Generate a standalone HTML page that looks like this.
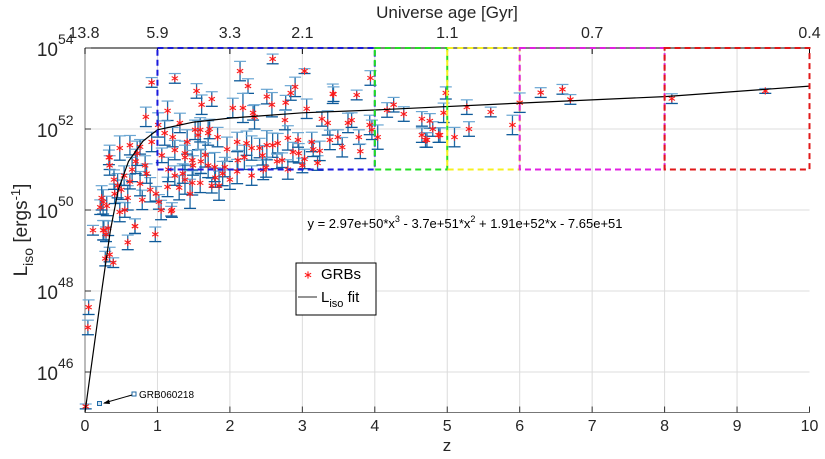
<!DOCTYPE html>
<html><head><meta charset="utf-8"><style>
body{margin:0;background:#fff;}
svg{display:block;font-family:"Liberation Sans",sans-serif;}
</style></head><body>
<svg id="chart" width="825" height="459" xmlns="http://www.w3.org/2000/svg"></svg>
<script>
// ---- data ----
const grbZ = [0.01,0.05,0.04,0.11,0.26,0.29,0.32,0.69,0.97,0.59,0.28,0.34,0.39,0.25,0.3,0.48,0.55,1.19,1.02,0.23,0.41,0.59,0.79,0.98,1.14,1.75,1.59,0.62,0.76,0.54,0.34,0.33,0.72,0.83,1.06,1.38,1.49,1.24,1.38,1.48,
0.92,1.24,1.54,0.84,1.14,1.61,1.75,2.14,2.25,2.51,2.58,2.77,2.9,3.03,3.42,3.75,3.94,1.01,1.31,1.52,1.59,1.72,2.04,2.18,2.32,2.34,2.76,3.06,3.27,3.35,3.63,3.68,3.93,4.04,3.96,3.78,3.49,3.38,3.13,2.94,2.8,2.66,2.51,2.41,2.23,2.1,1.96,1.83,1.7,1.56,1.41,1.21,1.1,0.92,0.76,0.62,0.48,0.34,1.24,1.38,1.48,1.66,1.79,1.93,2.11,2.3,2.46,2.59,2.72,2.87,3.03,3.21,3.24,
0.21,0.25,1.2,0.69,2.59,2.84,3.43,4.26,4.17,4.4,4.65,4.76,4.8,4.65,4.72,4.9,4.98,4.95,5.27,5.6,5.3,5.1,5.9,6.0,6.29,6.59,6.7,8.1,9.39,4.88,4.7,
1.9,2.0,2.1,1.85,2.3,1.7,2.5,2.8,3.0,1.3,1.45,0.9,1.05,1.6,1.8,2.2,2.45,2.65,2.95,3.15,3.55,3.8,1.15,1.35,0.5,0.65,0.85,0.45,0.4,0.7];
const grbLogL = [45.15,47.6,47.1,49.5,49.5,49.4,49.55,49.6,49.4,49.2,48.8,48.9,48.7,50.2,50.1,49.95,50.0,49.97,50.2,50.3,50.4,50.3,50.25,50.4,50.57,50.6,50.67,50.7,50.65,50.85,51.1,51.3,51.4,51.1,51.35,51.4,51.1,50.85,50.75,50.67,
53.15,53.25,52.94,52.3,52.45,52.6,52.74,53.43,53.06,52.8,52.6,52.65,53.04,53.43,52.87,52.84,53.26,52.1,52.15,51.98,51.98,52.0,52.52,52.52,52.4,52.3,52.22,52.5,52.25,52.15,52.15,52.22,52.1,51.8,51.98,51.8,51.8,51.73,51.68,51.73,51.78,51.65,51.6,51.53,51.65,51.68,51.5,51.8,51.9,51.85,51.68,51.8,51.9,51.68,51.56,51.6,51.53,51.3,51.48,51.3,51.23,51.36,51.06,51.06,51.23,51.53,50.99,51.6,51.23,51.43,51.26,51.16,51.46,
50.07,49.5,50.0,49.6,53.73,52.89,52.86,52.6,52.47,52.37,52.25,52.2,52.0,51.85,51.73,51.85,52.89,52.4,52.54,52.42,52.0,51.8,52.1,52.65,52.9,52.98,52.73,52.75,52.94,51.85,51.73,
50.9,50.75,50.95,50.6,50.85,51.1,51.05,51.0,51.1,50.55,50.4,50.5,50.0,51.2,50.8,51.3,51.35,51.2,51.4,51.5,51.55,51.45,51.0,50.9,50.5,51.0,50.9,50.6,50.75,51.2];
const grbErr = [0.06,0.18,0.18,0.12,0.24,0.18,0.18,0.18,0.18,0.18,0.18,0.18,0.12,0.3,0.24,0.24,0.18,0.12,0.18,0.3,0.24,0.3,0.24,0.18,0.24,0.18,0.24,0.18,0.3,0.24,0.24,0.18,0.3,0.24,0.18,0.3,0.24,0.24,0.36,0.3,
0.12,0.12,0.18,0.24,0.24,0.24,0.18,0.24,0.18,0.18,0.3,0.18,0.24,0.06,0.24,0.12,0.18,0.3,0.24,0.24,0.3,0.24,0.24,0.36,0.18,0.3,0.24,0.24,0.18,0.3,0.24,0.18,0.24,0.3,0.24,0.18,0.18,0.24,0.24,0.18,0.3,0.24,0.36,0.24,0.3,0.24,0.3,0.24,0.3,0.36,0.3,0.24,0.3,0.24,0.18,0.24,0.3,0.3,0.24,0.3,0.24,0.3,0.36,0.24,0.24,0.3,0.24,0.3,0.18,0.24,0.24,0.18,0.24,
0.18,0.24,0.18,0.18,0.12,0.18,0.18,0.18,0.18,0.18,0.18,0.18,0.18,0.18,0.18,0.18,0.15,0.24,0.18,0.12,0.18,0.24,0.24,0.24,0.12,0.12,0.12,0.12,0.06,0.18,0.18,
0.3,0.24,0.3,0.36,0.24,0.3,0.24,0.24,0.18,0.3,0.36,0.3,0.24,0.3,0.24,0.3,0.24,0.18,0.24,0.18,0.24,0.18,0.3,0.24,0.24,0.3,0.24,0.3,0.24,0.3];
const fitZ = [0,0.1,0.23,0.35,0.46,0.6,0.8,1,1.5,2,3,4,6,8,10];
const fitLogL = [45.0,46.3,48.0,49.5,50.5,51.2,51.7,51.98,52.17,52.27,52.4,52.47,52.64,52.8,53.06];
const xTicks = [0,1,2,3,4,5,6,7,8,9,10];
const yTicks = [46,48,50,52,54];
const ageTickZ = [0,1,2,3,5,7,10];
const ageLabels = ["13.8","5.9","3.3","2.1","1.1","0.7","0.4"];
const boxStart = [1,4,5,6,8];
const boxEnd = [4,5,6,8,10];
const boxColor = ["#1a1add","#22e022","#f5f020","#e020e0","#e01818"];
const boxLow = 51, boxHigh = 54;

// ---- scales ----
const X0=85,X1=809.5,Y0=412.5,Y1=48;
const xs = z => X0 + (z-0)/(10-0)*(X1-X0);
const ys = l => Y0 - (l-45)/(54-45)*(Y0-Y1);
const NS="http://www.w3.org/2000/svg";
const svg=document.getElementById('chart');
function mk(tag,attrs,parent){const e=document.createElementNS(NS,tag);for(const k in attrs)e.setAttribute(k,attrs[k]);(parent||svg).appendChild(e);return e;}
function star(x,y,parent,r){
  const g=mk('g',{stroke:'#ff1a1a','stroke-width':1.1},parent);
  mk('line',{x1:x,x2:x,y1:y-r,y2:y+r},g);
  mk('line',{x1:x-r*0.87,x2:x+r*0.87,y1:y-r*0.5,y2:y+r*0.5},g);
  mk('line',{x1:x-r*0.87,x2:x+r*0.87,y1:y+r*0.5,y2:y-r*0.5},g);
  return g;
}

// grid
const grid=mk('g',{});


xTicks.forEach(t=>{ if(t>0&&t<10) mk('line',{x1:xs(t),x2:xs(t),y1:Y1,y2:Y0,stroke:'#dcdcdc','stroke-width':1},grid);});
yTicks.forEach(t=>{ if(t<54) mk('line',{x1:X0,x2:X1,y1:ys(t),y2:ys(t),stroke:'#dcdcdc','stroke-width':1},grid);});

// axes
const ax=mk('g',{});


mk('line',{x1:X0,x2:X0,y1:Y1,y2:Y0,stroke:'#777','stroke-width':1},ax);
mk('line',{x1:X0,x2:X1,y1:Y0,y2:Y0,stroke:'#777','stroke-width':1},ax);
mk('line',{x1:X0,x2:X1,y1:Y1,y2:Y1,stroke:'#000','stroke-width':1},ax);
xTicks.forEach(t=>{
  mk('line',{x1:xs(t),x2:xs(t),y1:Y0,y2:Y0-6,stroke:'#333'},ax);
  const tx=mk('text',{x:xs(t),y:431,'font-size':16,'text-anchor':'middle',fill:'#262626'},ax);
  tx.textContent=t;
  
  
});
yTicks.forEach(t=>{
  mk('line',{x1:X0,x2:X0+6,y1:ys(t),y2:ys(t),stroke:'#333'},ax);
  const tx=mk('text',{x:58,y:ys(t)+8,'font-size':19,'text-anchor':'end',fill:'#262626'},ax);
  tx.textContent='10';
  
  
  const sp=mk('text',{x:58,y:ys(t)-4,'font-size':14,'text-anchor':'start',fill:'#262626'},ax);
  sp.textContent=t;
});
ageTickZ.forEach((z,i)=>{
  mk('line',{x1:xs(z),x2:xs(z),y1:Y1,y2:Y1+6,stroke:'#000'},ax);
  const tx=mk('text',{x:xs(z)-(i==0?1:0),y:38,'font-size':16,'text-anchor':'middle',fill:'#262626'},ax);
  tx.textContent=ageLabels[i];
  
  
});
let t=mk('text',{x:447,y:18,'font-size':17,'text-anchor':'middle',fill:'#262626'});
t.textContent='Universe age [Gyr]';


t=mk('text',{x:447,y:451,'font-size':17,'text-anchor':'middle',fill:'#262626'});
t.textContent='z';


const yl=mk('text',{transform:'translate(27,230) rotate(-90)','font-size':19,'text-anchor':'middle',fill:'#262626'});


yl.innerHTML='L<tspan font-size="14" dy="6">iso</tspan><tspan dy="-6"> [ergs</tspan><tspan font-size="13" dy="-7">-1</tspan><tspan dy="7">]</tspan>';

// error bars + points
const pts=mk('g',{});


grbZ.forEach((z,i)=>{
  const x=xs(z),l=grbLogL[i],e=grbErr[i];
  const yt=ys(l+e),yb=ys(l-e);
  mk('line',{x1:x,x2:x,y1:yt,y2:yb,stroke:'#1f6aa5','stroke-width':1.3},pts);
  mk('line',{x1:x-6,x2:x+6,y1:yt,y2:yt,stroke:'#6aa6d3','stroke-width':1.2},pts);
  mk('line',{x1:x-6,x2:x+6,y1:yb,y2:yb,stroke:'#0e5a9a','stroke-width':1.3},pts);
});
grbZ.forEach((z,i)=>{
  const s=star(xs(z),ys(grbLogL[i]),pts,3.6);
  
  
});

// fit
let d='';
fitZ.forEach((z,i)=>{d+=(i?'L':'M')+xs(z).toFixed(1)+','+ys(fitLogL[i]).toFixed(1);});
const fit=mk('path',{d:d,fill:'none',stroke:'#000','stroke-width':1.2,'stroke-linejoin':'round'});



// boxes
boxStart.forEach((s,i)=>{
  const r=mk('rect',{x:xs(s),y:ys(boxHigh),width:xs(boxEnd[i])-xs(s),height:ys(boxLow)-ys(boxHigh),fill:'none',stroke:boxColor[i],'stroke-width':2,'stroke-dasharray':'6,4'});
  
  
});

// equation
t=mk('text',{x:465,y:228,'font-size':13,'text-anchor':'middle',fill:'#000'});


t.innerHTML='y = 2.97e+50*x<tspan font-size="9" dy="-6">3</tspan><tspan dy="6"> - 3.7e+51*x</tspan><tspan font-size="9" dy="-6">2</tspan><tspan dy="6"> + 1.91e+52*x - 7.65e+51</tspan>';

// annotation
const an=mk('g',{});


mk('rect',{x:97.5,y:401.5,width:4,height:4,fill:'#cfe3f3',stroke:'#1f6aa5'},an);
mk('rect',{x:132,y:392,width:4,height:4,fill:'#fff',stroke:'#1f6aa5'},an);
mk('line',{x1:132,y1:395,x2:104,y2:403,stroke:'#000','stroke-width':1},an);
mk('path',{d:'M103,403.5 L109,399.5 L110,404 Z',fill:'#000'},an);
t=mk('text',{x:139,y:398,'font-size':10,fill:'#000'},an);
t.textContent='GRB060218';

// legend
const lg=mk('g',{});


mk('rect',{x:296,y:263,width:80,height:52,fill:'#fff',stroke:'#000','stroke-width':1},lg);
const ls=star(308,275,lg,3.6);


t=mk('text',{x:321,y:279,'font-size':15,fill:'#000'},lg);t.textContent='GRBs';
mk('line',{x1:298,x2:317,y1:297,y2:297,stroke:'#555','stroke-width':1.2},lg);
t=mk('text',{x:321,y:302,'font-size':15,fill:'#000'},lg);


t.innerHTML='L<tspan font-size="11" dy="5">iso</tspan><tspan dy="-5"> fit</tspan>';
</script>
</body></html>
